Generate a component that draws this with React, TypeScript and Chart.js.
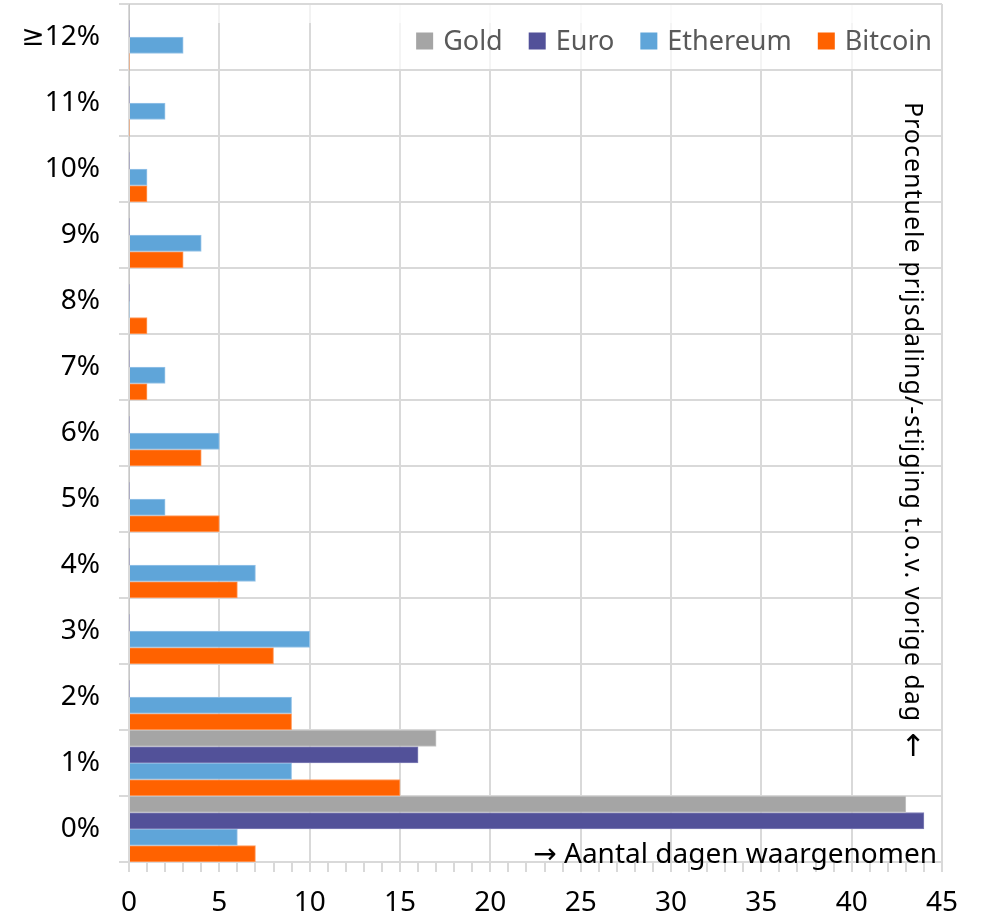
import React, { useEffect, useRef } from "react";
import { Chart, registerables } from "chart.js";

Chart.register(...registerables);

// ---- Data ----
const categories = ["≥12%", "11%", "10%", "9%", "8%", "7%", "6%", "5%", "4%", "3%", "2%", "1%", "0%"];
const goldValues = [0, 0, 0, 0, 0, 0, 0, 0, 0, 0, 0, 17, 43];
const euroValues = [0, 0, 0, 0, 0, 0, 0, 0, 0, 0, 0, 16, 44];
const ethereumValues = [3, 2, 1, 4, 0, 2, 5, 2, 7, 10, 9, 9, 6];
const bitcoinValues = [0, 0, 1, 3, 1, 1, 4, 5, 6, 8, 9, 15, 7];
const seriesLabels = ["Gold", "Euro", "Ethereum", "Bitcoin"];
const xMin = 0;
const xMax = 45;
const xMajorStep = 5;
const yAxisTitle = "Procentuele prijsdaling/-stijging t.o.v. vorige dag";
const yAxisArrow = "↑";
const xAxisTitle = "→ Aantal dagen waargenomen";

// ---- Styles ----
const seriesColors = ["#A5A5A5", "#525199", "#5FA5D9", "#FF6200"];
const seriesBorders = ["#C6C6C6", "#8281B8", "#98C5E9", "#FF9D60"];
const FONT = '"Noto Sans", "DejaVu Sans", sans-serif';
const GRID = "#D9D9D9";

const overlayPlugin = {
  id: "overlay",
  afterDraw(chart: any) {
    const { ctx, chartArea: ca } = chart;
    ctx.save();

    // light band at the very top
    ctx.fillStyle = "rgba(255,255,255,0.65)";
    ctx.fillRect(ca.left + 6, ca.top + 1, ca.right - ca.left - 7, 18);

    // legend
    ctx.font = `27px ${FONT}`;
    const box = 17;
    const gapBoxText = 10;
    const gapItems = 26;
    const widths = seriesLabels.map((l) => ctx.measureText(l).width);
    let total = 0;
    widths.forEach((w, i) => {
      total += box + gapBoxText + w + (i < widths.length - 1 ? gapItems : 0);
    });
    let x = ca.right - 10 - total;
    const yc = ca.top + 37;
    ctx.fillStyle = "rgba(255,255,255,0.7)";
    ctx.fillRect(x - 20, ca.top + 1, ca.right - (x - 20) - 1, 64);
    ctx.textBaseline = "middle";
    ctx.textAlign = "left";
    seriesLabels.forEach((l, i) => {
      ctx.fillStyle = seriesColors[i];
      ctx.fillRect(x, yc - box / 2, box, box);
      x += box + gapBoxText;
      ctx.fillStyle = "#595959";
      ctx.fillText(l, x, yc + 1);
      x += widths[i] + gapItems;
    });

    // rotated axis title on the right
    ctx.fillStyle = "#000";
    ctx.font = `25px ${FONT}`;
    ctx.save();
    try {
      (ctx as any).letterSpacing = "1px";
    } catch (e) {}
    ctx.translate(ca.right - 30, ca.top + 408);
    ctx.rotate(Math.PI / 2);
    ctx.textAlign = "center";
    ctx.textBaseline = "middle";
    ctx.fillText(yAxisTitle, 0, 0);
    ctx.restore();
    ctx.font = `30px ${FONT}`;
    ctx.textAlign = "center";
    ctx.textBaseline = "middle";
    ctx.fillText(yAxisArrow, ca.right - 29, ca.top + 743);

    // bottom-right axis title
    ctx.font = `28px ${FONT}`;
    ctx.textAlign = "right";
    ctx.textBaseline = "alphabetic";
    ctx.fillText(xAxisTitle, ca.right - 5, ca.bottom + 1);

    ctx.restore();
  },
};

export default function App() {
  const ref = useRef<HTMLCanvasElement>(null);

  useEffect(() => {
    const values = [goldValues, euroValues, ethereumValues, bitcoinValues];
    const chart = new Chart(ref.current as HTMLCanvasElement, {
      type: "bar",
      data: {
        labels: categories,
        datasets: seriesLabels.map((label, i) => ({
          label,
          data: values[i],
          backgroundColor: seriesColors[i],
          borderColor: seriesBorders[i],
          borderWidth: (c: any) => (c.raw === 0 ? 0 : 1),
          barPercentage: 1,
          categoryPercentage: 1,
        })),
      },
      options: {
        indexAxis: "y",
        animation: false,
        responsive: true,
        maintainAspectRatio: false,
        layout: { padding: { top: 4, right: 45, left: 0, bottom: 0 } },
        plugins: {
          legend: { display: false },
          tooltip: { enabled: false },
        },
        scales: {
          x: {
            type: "linear",
            min: xMin,
            max: xMax,
            position: "bottom",
            afterFit: (s: any) => {
              s.height = 56;
              s.paddingLeft = 0;
              s.paddingRight = 0;
            },
            grid: {
              color: (c: any) =>
                c.tick && c.tick.value % xMajorStep === 0 ? GRID : "rgba(0,0,0,0)",
              tickColor: GRID,
              lineWidth: 2,
              tickLength: 10,
            },
            border: { color: GRID, width: 2 },
            ticks: {
              stepSize: 1,
              maxTicksLimit: 100,
              autoSkip: false,
              maxRotation: 0,
              minRotation: 0,
              padding: 14,
              color: "#000",
              font: { family: FONT, size: 28 },
              callback: (v: any) => (Number(v) % xMajorStep === 0 ? String(v) : ""),
            },
          },
          y: {
            type: "category",
            afterFit: (s: any) => {
              s.width = 129;
              s.paddingTop = 0;
              s.paddingBottom = 0;
            },
            grid: { color: GRID, lineWidth: 2, tickLength: 10, offset: true },
            border: { color: GRID, width: 2 },
            ticks: {
              padding: 19,
              color: "#000",
              font: { family: FONT, size: 28 },
              autoSkip: false,
            },
          },
        },
      },
      plugins: [overlayPlugin],
    });
    return () => chart.destroy();
  }, []);

  return (
    <div style={{ position: "absolute", left: 0, top: 0, width: 987, height: 918 }}>
      <canvas ref={ref} />
    </div>
  );
}
